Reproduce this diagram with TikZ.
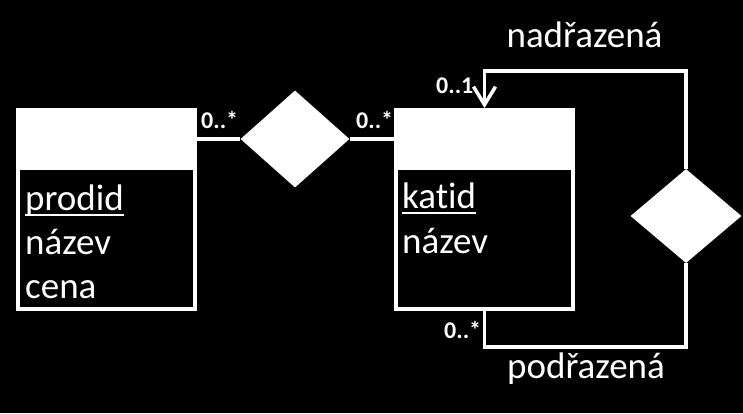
\documentclass[tikz,border=0pt]{standalone}
\usepackage{fontspec}
\setmainfont{Carlito}[RawFeature=-liga]
\usetikzlibrary{arrows.meta, positioning, shapes.geometric}

\newcommand{\pkey}[1]{\setbox0\hbox{#1}\rlap{\rule[-6pt]{\wd0}{2pt}}\box0}

\begin{document}
\begin{tikzpicture}[x=1pt, y=-1pt,
  entity/.style={draw=white, line width=4pt, minimum width=177pt, minimum height=199pt, inner sep=0pt},
  rel/.style={diamond, fill=white, inner sep=0pt},
  link/.style={draw=white, line width=3.5pt},
  attr/.style={text=white, font=\fontsize{37}{42}\selectfont, anchor=base west, inner sep=0pt},
  role/.style={text=white, font=\fontsize{37}{42}\selectfont, anchor=base, inner sep=0pt},
  mult/.style={text=white, font=\fontsize{24}{26}\selectfont\bfseries, anchor=base west, inner sep=0pt}]
  \fill[black] (0,0) rectangle (743,413);

  % entities
  \node[entity] (prod) at (106.5,209.5) {};
  \node[entity] (kat) at (484.5,209.5) {};
  \fill[white] (prod.north west) rectangle ([yshift=-62pt]prod.north east);
  \fill[white] (kat.north west) rectangle ([yshift=-62pt]kat.north east);

  \node[attr] (prodid) at (25,210) {\pkey{prodid}};
  \node[attr] (pnazev) at (25,254) {název};
  \node[attr] (pcena) at (25,298) {cena};
  \node[attr] (katid) at (402,208) {\pkey{katid}};
  \node[attr] (knazev) at (402,253) {název};

  % relationships
  \node[rel, minimum width=109pt, minimum height=97pt] (patri) at (295,139) {};
  \node[rel, minimum width=111pt, minimum height=94pt] (hier) at (686,216) {};

  \draw[link] (prod.east |- patri.west) -- (patri.west);
  \draw[link] (patri.east) -- (kat.west |- patri.east);
  \draw[link, -{Straight Barb[length=18pt, width=22pt]}] (hier.north) |- ([yshift=37pt]kat.north) -- (kat.north);
  \draw[link] (hier.south) |- ([yshift=-36pt]kat.south) -- (kat.south);

  % labels
  \node[mult] (m1) at (201,128) {0..*};
  \node[mult] (m2) at (356,128) {0..*};
  \node[mult] (m3) at (436,93) {0..1};
  \node[mult] (m4) at (444,338) {0..*};
  \node[role] (nadr) at (584.5,47) {nadřazená};
  \node[role] (podr) at (586,378) {podřazená};
\end{tikzpicture}
\end{document}
